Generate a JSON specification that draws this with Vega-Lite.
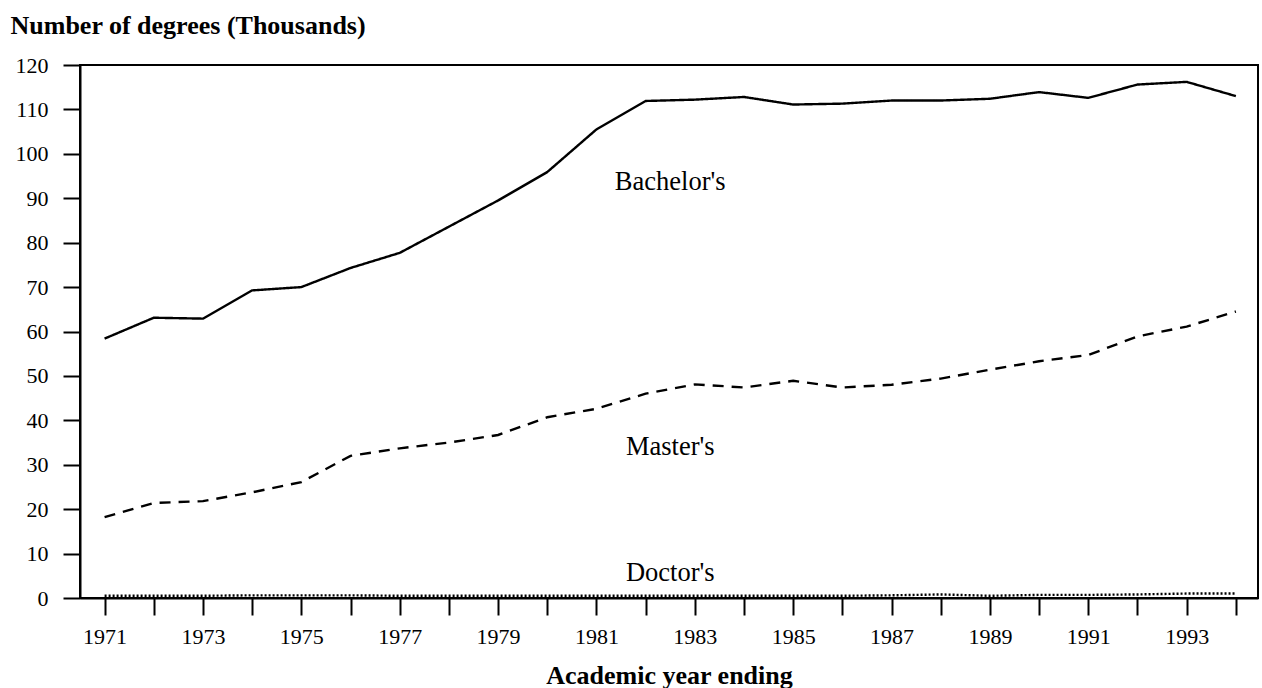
{
  "$schema": "https://vega.github.io/schema/vega-lite/v6.json",
  "autosize": {"type": "none"},
  "width": 1178,
  "height": 533,
  "padding": {"left": 80, "top": 65, "right": 4, "bottom": 90},
  "background": "white",
  "config": {
    "view": {"stroke": "black", "strokeWidth": 2},
    "font": "Liberation Serif",
    "axis": {"labelFont": "Liberation Serif", "titleFont": "Liberation Serif", "labelColor": "black", "titleColor": "black", "domainColor": "black", "tickColor": "black", "grid": false}
  },
  "datasets": {
    "degrees": [
      {"year": 1971, "degree": "Bachelor's", "value": 58.4},
      {"year": 1972, "degree": "Bachelor's", "value": 63.1},
      {"year": 1973, "degree": "Bachelor's", "value": 62.9},
      {"year": 1974, "degree": "Bachelor's", "value": 69.25},
      {"year": 1975, "degree": "Bachelor's", "value": 70.0},
      {"year": 1976, "degree": "Bachelor's", "value": 74.3},
      {"year": 1977, "degree": "Bachelor's", "value": 77.7},
      {"year": 1978, "degree": "Bachelor's", "value": 83.6},
      {"year": 1979, "degree": "Bachelor's", "value": 89.5},
      {"year": 1980, "degree": "Bachelor's", "value": 95.9},
      {"year": 1981, "degree": "Bachelor's", "value": 105.5},
      {"year": 1982, "degree": "Bachelor's", "value": 111.9},
      {"year": 1983, "degree": "Bachelor's", "value": 112.2},
      {"year": 1984, "degree": "Bachelor's", "value": 112.8},
      {"year": 1985, "degree": "Bachelor's", "value": 111.1},
      {"year": 1986, "degree": "Bachelor's", "value": 111.3},
      {"year": 1987, "degree": "Bachelor's", "value": 112.0},
      {"year": 1988, "degree": "Bachelor's", "value": 112.0},
      {"year": 1989, "degree": "Bachelor's", "value": 112.4},
      {"year": 1990, "degree": "Bachelor's", "value": 113.9},
      {"year": 1991, "degree": "Bachelor's", "value": 112.6},
      {"year": 1992, "degree": "Bachelor's", "value": 115.6},
      {"year": 1993, "degree": "Bachelor's", "value": 116.2},
      {"year": 1994, "degree": "Bachelor's", "value": 113.0},
      {"year": 1971, "degree": "Master's", "value": 18.2},
      {"year": 1972, "degree": "Master's", "value": 21.4},
      {"year": 1973, "degree": "Master's", "value": 21.8},
      {"year": 1974, "degree": "Master's", "value": 23.8},
      {"year": 1975, "degree": "Master's", "value": 26.1},
      {"year": 1976, "degree": "Master's", "value": 32.0},
      {"year": 1977, "degree": "Master's", "value": 33.7},
      {"year": 1978, "degree": "Master's", "value": 35.0},
      {"year": 1979, "degree": "Master's", "value": 36.7},
      {"year": 1980, "degree": "Master's", "value": 40.7},
      {"year": 1981, "degree": "Master's", "value": 42.6},
      {"year": 1982, "degree": "Master's", "value": 46.0},
      {"year": 1983, "degree": "Master's", "value": 48.1},
      {"year": 1984, "degree": "Master's", "value": 47.4},
      {"year": 1985, "degree": "Master's", "value": 48.9},
      {"year": 1986, "degree": "Master's", "value": 47.4},
      {"year": 1987, "degree": "Master's", "value": 48.0},
      {"year": 1988, "degree": "Master's", "value": 49.4},
      {"year": 1989, "degree": "Master's", "value": 51.4},
      {"year": 1990, "degree": "Master's", "value": 53.3},
      {"year": 1991, "degree": "Master's", "value": 54.7},
      {"year": 1992, "degree": "Master's", "value": 58.9},
      {"year": 1993, "degree": "Master's", "value": 61.1},
      {"year": 1994, "degree": "Master's", "value": 64.5},
      {"year": 1971, "degree": "Doctor's", "value": 0.5},
      {"year": 1972, "degree": "Doctor's", "value": 0.5},
      {"year": 1973, "degree": "Doctor's", "value": 0.5},
      {"year": 1974, "degree": "Doctor's", "value": 0.6},
      {"year": 1975, "degree": "Doctor's", "value": 0.6},
      {"year": 1976, "degree": "Doctor's", "value": 0.6},
      {"year": 1977, "degree": "Doctor's", "value": 0.5},
      {"year": 1978, "degree": "Doctor's", "value": 0.5},
      {"year": 1979, "degree": "Doctor's", "value": 0.5},
      {"year": 1980, "degree": "Doctor's", "value": 0.5},
      {"year": 1981, "degree": "Doctor's", "value": 0.5},
      {"year": 1982, "degree": "Doctor's", "value": 0.5},
      {"year": 1983, "degree": "Doctor's", "value": 0.5},
      {"year": 1984, "degree": "Doctor's", "value": 0.5},
      {"year": 1985, "degree": "Doctor's", "value": 0.5},
      {"year": 1986, "degree": "Doctor's", "value": 0.5},
      {"year": 1987, "degree": "Doctor's", "value": 0.6},
      {"year": 1988, "degree": "Doctor's", "value": 0.8},
      {"year": 1989, "degree": "Doctor's", "value": 0.5},
      {"year": 1990, "degree": "Doctor's", "value": 0.7},
      {"year": 1991, "degree": "Doctor's", "value": 0.7},
      {"year": 1992, "degree": "Doctor's", "value": 0.8},
      {"year": 1993, "degree": "Doctor's", "value": 1.0},
      {"year": 1994, "degree": "Doctor's", "value": 1.0}
    ],
    "labels": [
      {"year": 1982.5, "value": 93.7, "text": "Bachelor's"},
      {"year": 1982.5, "value": 34.0, "text": "Master's"},
      {"year": 1982.5, "value": 5.6, "text": "Doctor's"}
    ]
  },
  "layer": [
    {
      "data": {"name": "degrees"},
      "mark": {"type": "line", "strokeWidth": 2.4, "clip": true},
      "encoding": {
        "x": {
          "field": "year", "type": "quantitative",
          "scale": {"domain": [1970.5, 1994.45], "nice": false, "zero": false},
          "axis": {
            "title": "Academic year ending",
            "titleFontSize": 26, "titleFontWeight": "bold",
            "titleX": 589, "titleY": 85, "titleBaseline": "alphabetic",
            "values": [1971,1972,1973,1974,1975,1976,1977,1978,1979,1980,1981,1982,1983,1984,1985,1986,1987,1988,1989,1990,1991,1992,1993,1994],
            "labelExpr": "datum.value % 2 == 1 ? toString(datum.value) : ''",
            "labelOverlap": false, "labelFlush": false,
            "labelFontSize": 22, "labelPadding": 11,
            "tickSize": 17, "tickWidth": 2, "domainWidth": 2,
            "encode": {"ticks": {"update": {"y2": {"signal": "datum.value % 2 == 1 ? 17 : 9"}}}}
          }
        },
        "y": {
          "field": "value", "type": "quantitative",
          "scale": {"domain": [0, 120], "nice": false},
          "axis": {
            "title": "Number of degrees (Thousands)",
            "titleAngle": 0, "titleAlign": "left", "titleBaseline": "alphabetic",
            "titleX": -70, "titleY": -32,
            "titleFontSize": 26, "titleFontWeight": "bold",
            "values": [0,10,20,30,40,50,60,70,80,90,100,110,120],
            "labelFontSize": 22, "labelPadding": 15,
            "tickSize": 17, "tickWidth": 2, "domainWidth": 2
          }
        },
        "color": {"field": "degree", "type": "nominal", "scale": {"range": ["black", "black", "black"]}, "legend": null},
        "strokeDash": {
          "field": "degree", "type": "nominal",
          "scale": {"domain": ["Bachelor's", "Master's", "Doctor's"], "range": [[1, 0], [11, 8], [2, 2]]},
          "legend": null
        }
      }
    },
    {
      "data": {"name": "labels"},
      "mark": {"type": "text", "font": "Liberation Serif", "fontSize": 26.5, "color": "black", "align": "center", "baseline": "middle"},
      "encoding": {
        "x": {"field": "year", "type": "quantitative"},
        "y": {"field": "value", "type": "quantitative"},
        "text": {"field": "text"}
      }
    }
  ]
}
